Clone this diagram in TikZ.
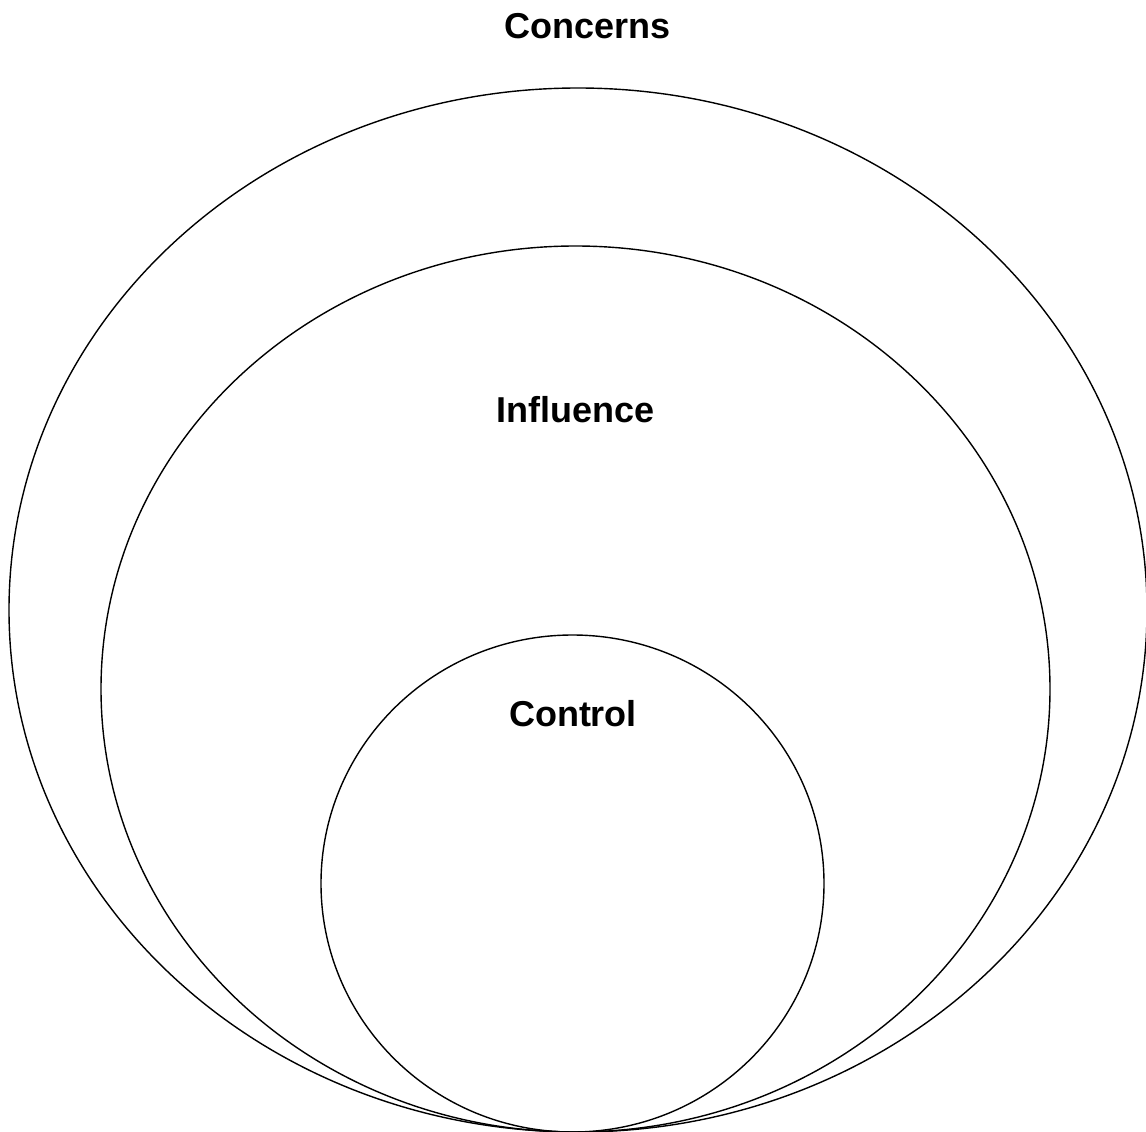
\documentclass[tikz,border=0pt]{standalone}
\usepackage{fontspec}
\setmainfont{Liberation Sans}
\begin{document}
\begin{tikzpicture}[x=1pt,y=-1pt,
  ring/.style={draw=black,line width=1.4pt},
  lbl/.style={inner sep=0pt,font=\fontsize{36}{40}\selectfont\bfseries}]
\useasboundingbox[fill=white] (0,0) rectangle (1146,1132);
\draw[ring] (578,610) ellipse [x radius=569, y radius=522];
\draw[ring] (575.5,689) ellipse [x radius=474.5, y radius=443];
\draw[ring] (572.5,883.5) ellipse [x radius=251.5, y radius=248.5];
\node[lbl] (concerns) at (587.5,26) {Concerns};
\node[lbl] (influence) at (575.5,410) {Influence};
\node[lbl] (control) at (573,714) {Control};
\end{tikzpicture}
\end{document}
